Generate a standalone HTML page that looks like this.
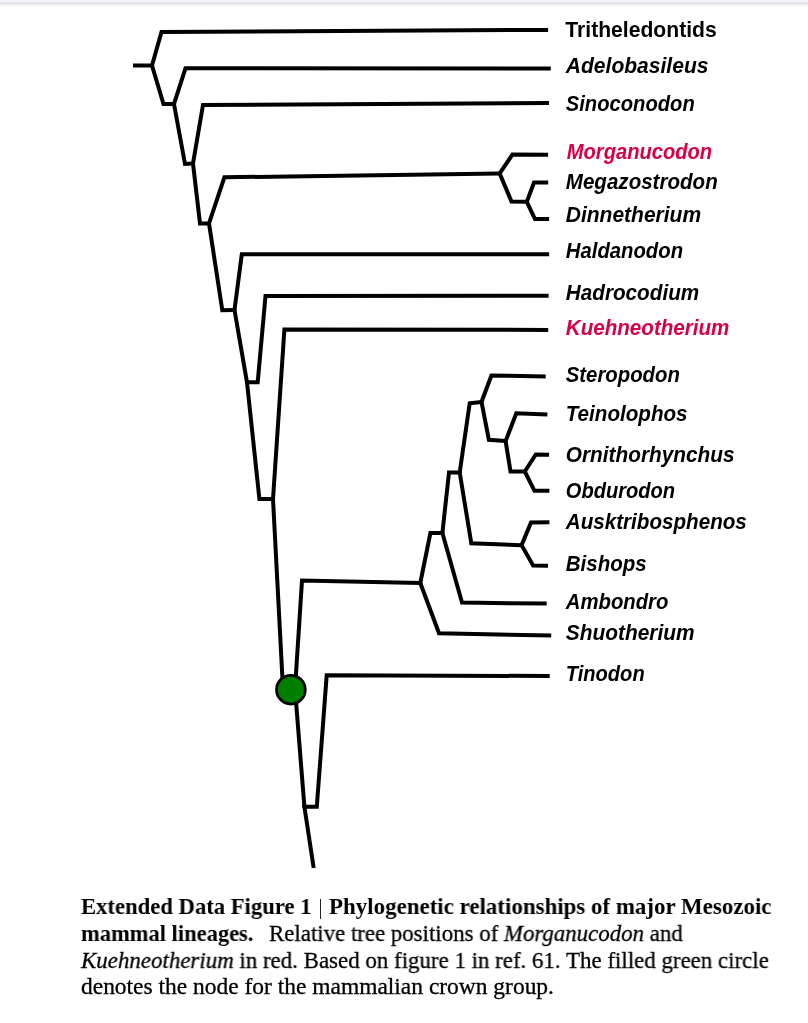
<!DOCTYPE html>
<html><head><meta charset="utf-8"><style>
#wrap{position:absolute;left:0;top:0;width:808px;height:1023px;filter:blur(0.45px)}
html,body{margin:0;padding:0;background:#fff;width:808px;height:1023px;overflow:hidden;position:relative}
#topbar{position:absolute;left:0;top:0;width:808px;height:7px;background:linear-gradient(#eff2f7 0,#eff2f7 2px,#dedede 3.5px,#f6f6f6 5px,#fff 7px)}
svg{position:absolute;left:0;top:0;will-change:transform}
.lab{font-family:"Liberation Sans",sans-serif;font-weight:bold;font-style:italic;font-size:22px;fill:#000}
.red{fill:#d4004a}
.rg{-webkit-text-stroke:0.3px #000}
.cap{position:absolute;transform-origin:0 0;will-change:transform;font-family:"Liberation Serif",serif;font-size:23px;color:#000;white-space:nowrap;line-height:26px}
</style></head><body>
<div id="topbar"></div>
<div id="wrap">
<svg width="808" height="1023" viewBox="0 0 808 1023">
<g fill="none" stroke="#000" stroke-width="4" stroke-linejoin="miter" stroke-miterlimit="10" stroke-linecap="butt">
<polyline points="548.1,29.9 161.5,32 152,65.5 133,65.5"/>
<polyline points="152,65.5 163.5,104 174,104"/>
<polyline points="550.8,68.6 185.5,68.3 174,104 185,164 193,163.5"/>
<polyline points="549,103.1 203,105 193,163.5 200,223.4 209,223.4"/>
<polyline points="499.7,173.4 224.4,177.3 209,223.4 222.3,310.3 234.5,310"/>
<polyline points="548.1,154.8 512.4,154.6 499.7,173.4 511.5,201.6 526.8,201.8"/>
<polyline points="548.2,182.5 534,182.6 526.8,201.8 535,219 549.1,219"/>
<polyline points="549.1,254.2 241.8,254.2 234.5,310 247,382.3 259.4,499 273,499"/>
<polyline points="548.6,295.8 265.5,296 257.7,382.3 247,382.3"/>
<polyline points="548.2,329.9 284.4,329.5 273,499 283,689 295,689"/>
<polyline points="549.7,676 326.7,675.3 316.8,806.7 304.4,806.7 313.7,868"/>
<polyline points="304.4,806.7 295,689 302,580.6 420.3,583 439,633.3 551.2,635.5"/>
<polyline points="420.3,583 430.4,533 442.4,533 462,602.6 546.7,603.6"/>
<polyline points="442.4,533 449,472.4 459.7,472.5 471.3,543.2 521.6,545.2"/>
<polyline points="549.4,522.2 531,522.5 521.6,545.2 533.1,565.5 548,565.7"/>
<polyline points="459.7,472.5 469.7,403.3 481.5,402"/>
<polyline points="545.7,376.4 491.4,375.5 481.5,402 488.9,439.8 505.6,441.1"/>
<polyline points="547.4,414.5 516.3,413.3 505.6,441.1 510.5,471.4 524.8,471.5"/>
<polyline points="549,454.7 535.8,454.4 524.8,471.5 534.5,490.8 549.4,490.7"/>
</g>
<g fill="#000"><circle cx="152" cy="65.5" r="2"/><circle cx="174" cy="104" r="2"/><circle cx="193" cy="163.5" r="2"/><circle cx="209" cy="223.4" r="2"/><circle cx="499.7" cy="173.4" r="2"/><circle cx="526.8" cy="201.8" r="2"/><circle cx="234.5" cy="310" r="2"/><circle cx="247" cy="382.3" r="2"/><circle cx="273" cy="499" r="2"/><circle cx="295" cy="689" r="2"/><circle cx="304.4" cy="806.7" r="2"/><circle cx="420.3" cy="583" r="2"/><circle cx="442.4" cy="533" r="2"/><circle cx="459.7" cy="472.5" r="2"/><circle cx="521.6" cy="545.2" r="2"/><circle cx="481.5" cy="402" r="2"/><circle cx="505.6" cy="441.1" r="2"/><circle cx="524.8" cy="471.5" r="2"/></g>
<circle cx="290.9" cy="689.7" r="14.35" fill="#008000" stroke="#000" stroke-width="2.8"/>
<text class="lab" style="font-style:normal" transform="translate(565.3,37) scale(0.9611,1)">Tritheledontids</text>
<text class="lab" transform="translate(565.8,73) scale(0.9574,1)">Adelobasileus</text>
<text class="lab" transform="translate(565.8,111) scale(0.9179,1)">Sinoconodon</text>
<text class="lab red" transform="translate(566.8,159) scale(0.9152,1)">Morganucodon</text>
<text class="lab" transform="translate(565.8,189) scale(0.9352,1)">Megazostrodon</text>
<text class="lab" transform="translate(565.8,222) scale(0.9546,1)">Dinnetherium</text>
<text class="lab" transform="translate(565.8,258) scale(0.9230,1)">Haldanodon</text>
<text class="lab" transform="translate(565.8,300) scale(0.9411,1)">Hadrocodium</text>
<text class="lab red" transform="translate(565.8,335) scale(0.9368,1)">Kuehneotherium</text>
<text class="lab" transform="translate(565.8,382) scale(0.9244,1)">Steropodon</text>
<text class="lab" transform="translate(565.8,421) scale(0.9372,1)">Teinolophos</text>
<text class="lab" transform="translate(565.8,462) scale(0.9461,1)">Ornithorhynchus</text>
<text class="lab" transform="translate(565.8,498) scale(0.9134,1)">Obdurodon</text>
<text class="lab" transform="translate(565.8,529) scale(0.9380,1)">Ausktribosphenos</text>
<text class="lab" transform="translate(565.8,571) scale(0.9326,1)">Bishops</text>
<text class="lab" transform="translate(565.8,609) scale(0.9225,1)">Ambondro</text>
<text class="lab" transform="translate(565.8,640) scale(0.9489,1)">Shuotherium</text>
<text class="lab" transform="translate(565.8,681) scale(0.9140,1)">Tinodon</text>
</svg>
<div class="cap" style="top:894px;left:81px;transform:scaleX(0.985)"><b>Extended Data Figure 1</b></div>
<div style="position:absolute;left:320px;top:898.7px;width:1.2px;height:20.5px;background:#222"></div>
<div class="cap" style="top:894px;left:329.3px;transform:scaleX(0.997)"><b>Phylogenetic relationships of major Mesozoic</b></div>
<div class="cap" style="top:921px;left:81.3px;transform:scaleX(0.978)"><b>mammal lineages.</b></div>
<div class="cap" style="top:921px;left:268.8px;transform:scaleX(0.994)"><span class="rg">Relative tree positions of <i>Morganucodon</i> and</span></div>
<div class="cap" style="top:948px;left:81px;transform:scaleX(0.996)"><span class="rg"><i>Kuehneotherium</i> in red. Based on figure 1 in ref. 61. The filled green circle</span></div>
<div class="cap" style="top:974px;left:81px;transform:scaleX(1.020)"><span class="rg">denotes the node for the mammalian crown group.</span></div>
</div>
</body></html>
